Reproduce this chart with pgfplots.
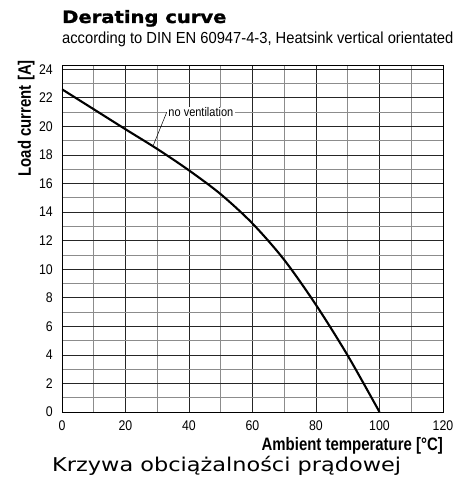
\documentclass[border=0pt]{standalone}
\usepackage{pgfplots}
\pgfplotsset{compat=1.18}
\usepackage{fontspec}
\setmainfont{Liberation Sans}
\newfontfamily\cond[FakeStretch=0.88]{Liberation Sans}
\newfontfamily\conds[FakeStretch=0.92]{Liberation Sans}
\newfontfamily\condb[FakeStretch=0.83]{Liberation Sans Bold}
\newfontfamily\capfont[FakeStretch=1.18]{DejaVu Sans}
\newfontfamily\titlefont[FakeBold=1.5,FakeStretch=1.15]{DejaVu Sans Bold}
\begin{document}
\begin{tikzpicture}
\useasboundingbox (-62pt,-70pt) rectangle (397pt,412pt);
\begin{axis}[
  at={(0pt,0pt)}, anchor=south west,
  scale only axis,
  width=381pt, height=347pt,
  xmin=0, xmax=120, ymin=0, ymax=24.3,
  xtick={0,20,...,120}, ytick={0,2,...,24},
  minor x tick num=1, minor y tick num=1,
  grid=both,
  major grid style={black!85, line width=0.7pt},
  minor grid style={black!45, line width=0.7pt},
  axis line style={black, line width=0.8pt},
  major tick length=0pt, minor tick length=0pt,
  /pgf/number format/assume math mode=true,
  tick label style={font=\cond\fontsize{14}{15}\selectfont},
  xticklabel style={anchor=north, inner sep=0pt, yshift=-8.5pt},
  yticklabel style={anchor=east, inner sep=0pt, xshift=-9pt},
]
\addplot[black, line width=2.1pt, smooth] coordinates {
(0,22.6) (10,21.2) (20,19.8) (30,18.42) (40,16.92) (50,15.25) (60,13.2) (70,10.65) (80,7.5) (90,3.95) (100,0)
};
\node[fill=white, inner xsep=1.5pt, inner ysep=1pt, anchor=west, font=\cond\fontsize{12.5}{13}\selectfont] at (axis cs:33,21) {no ventilation};
\draw[black, line width=0.5pt] (axis cs:28.8,18.7) -- (axis cs:33,21);
\end{axis}
\node[anchor=base west, inner sep=0pt, font=\titlefont\fontsize{17}{18}\selectfont] at (0pt,389pt) {Derating curve};
\node[anchor=base west, inner sep=0pt, font=\conds\fontsize{16}{17}\selectfont] at (0pt,368.5pt) {according to DIN EN 60947-4-3, Heatsink vertical orientated};
\node[anchor=base east, inner sep=0pt, font=\condb\fontsize{18}{19}\selectfont] at (381pt,-38.5pt) {Ambient temperature [°C]};
\node[anchor=base east, inner sep=0pt, rotate=90, font=\condb\fontsize{18}{19}\selectfont] at (-31pt,352pt) {Load current [A]};
\node[anchor=base west, inner sep=0pt, font=\capfont\fontsize{19}{20}\selectfont] at (-10pt,-59.5pt) {Krzywa obciążalności prądowej};
\end{tikzpicture}
\end{document}
